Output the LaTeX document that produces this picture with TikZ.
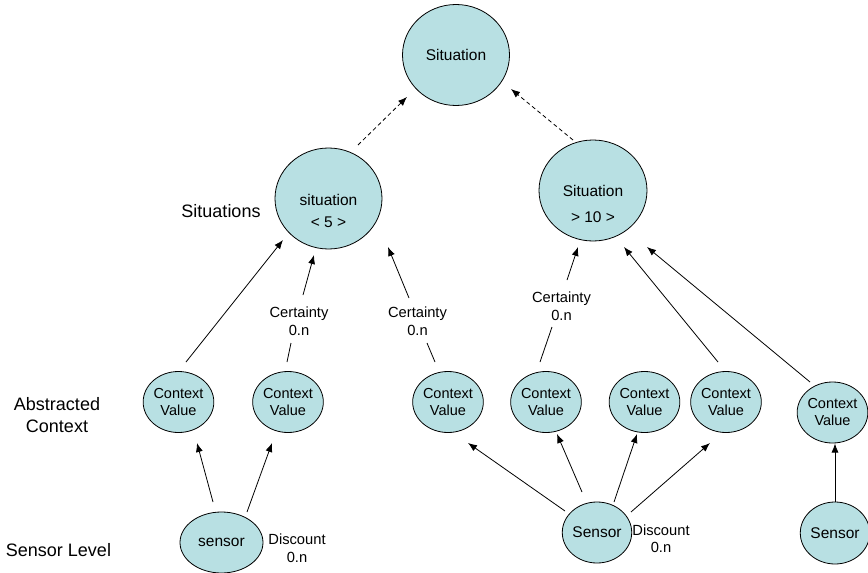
\documentclass[tikz,border=0pt]{standalone}
\usepackage{fontspec}
\setmainfont{Liberation Sans}
\usetikzlibrary{shapes.geometric,arrows.meta}
\definecolor{nodefill}{RGB}{184,224,227}
\begin{document}
\begin{tikzpicture}[x=1pt,y=-1pt,
  bub/.style={ellipse, draw=black, line width=0.8pt, fill=nodefill, inner sep=0pt, outer sep=0pt},
  big/.style={bub, minimum width=107pt, minimum height=101pt, font=\fontsize{15.5}{18.6}\selectfont},
  cv/.style={bub, minimum width=67pt, minimum height=61pt, font=\fontsize{14.5}{17}\selectfont, align=center},
  sens/.style={bub, minimum width=66pt, minimum height=61pt, font=\fontsize{15.5}{18.6}\selectfont},
  intxt/.style={inner sep=0pt, align=center},
  lbl/.style={font=\fontsize{18}{22}\selectfont, align=center, inner sep=0pt},
  cert/.style={font=\fontsize{14.7}{17.5}\selectfont, align=center, inner sep=0pt},
  arr/.style={line width=0.8pt, -{Latex[length=9pt,width=7pt]}},
  dsh/.style={line width=0.8pt, dash pattern=on 4pt off 3pt, -{Latex[length=9pt,width=7pt]}},
  ln/.style={line width=0.8pt}]
\useasboundingbox (0,0) rectangle (868,573);

% situations
\node[big] (s0) at (456,55) {Situation};
\node[big] (s1) at (328.5,198.5) {};
\node[intxt, font=\fontsize{15.5}{22}\selectfont] (s1t) at (328.5,211) {situation\\< 5 >};
\node[big, minimum width=108pt] (s2) at (593,190.5) {};
\node[intxt, font=\fontsize{15.5}{25.5}\selectfont] (s2t) at (593,204.2) {Situation\\> 10 >};

% context values
\node[cv] (cv1) at (178.5,402) {Context\\Value};
\node[cv] (cv2) at (288,402) {Context\\Value};
\node[cv, minimum width=66pt] (cv3) at (448,402) {Context\\Value};
\node[cv, minimum width=66pt] (cv4) at (546,402) {Context\\Value};
\node[cv, minimum width=65pt] (cv5) at (644.5,402) {Context\\Value};
\node[cv, minimum width=66pt] (cv6) at (726,402) {Context\\Value};
\node[cv] (cv7) at (832.5,412.5) {Context\\Value};

% sensors
\node[sens, minimum width=83pt] (se1) at (221.5,542.5) {sensor};
\node[sens] (se2) at (597,532.5) {Sensor};
\node[sens, minimum height=62pt] (se3) at (835,533) {Sensor};

% labels
\node[lbl] (lsit) at (221,211) {Situations};
\node[lbl] (labs) at (57,415.5) {Abstracted\\Context};
\node[lbl] (lsen) at (58.5,550) {Sensor Level};

\node[cert] (c1) at (299,321) {Certainty\\0.n};
\node[cert] (c2) at (417.5,321) {Certainty\\0.n};
\node[cert] (c3) at (561.5,306) {Certainty\\0.n};
\node[cert] (d1) at (297,548) {Discount\\0.n};
\node[cert] (d2) at (661,538.5) {Discount\\0.n};

% dashed arrows
\draw[dsh] ([shift={(29.5,-53.5)}]s1.center) -- ([shift={(-49,42)}]s0.center);
\draw[dsh] ([shift={(-20,-50.5)}]s2.center) -- ([shift={(55,34)}]s0.center);

% context values to situations
\draw[arr] ([shift={(7.5,-40)}]cv1.center) -- ([shift={(-45.5,41.5)}]s1.center);
\draw[ln]  ([shift={(-1,-40)}]cv2.center) -- ([shift={(-8,22)}]c1.center);
\draw[arr] ([shift={(4,-26)}]c1.center) -- ([shift={(-14.5,56.5)}]s1.center);
\draw[ln]  ([shift={(-13,-40)}]cv3.center) -- ([shift={(9.5,22)}]c2.center);
\draw[arr] ([shift={(-8.5,-23)}]c2.center) -- ([shift={(59.5,48.5)}]s1.center);
\draw[ln]  ([shift={(-6,-40)}]cv4.center) -- ([shift={(-9.5,21)}]c3.center);
\draw[arr] ([shift={(5.5,-26)}]c3.center) -- ([shift={(-15,56.5)}]s2.center);
\draw[arr] ([shift={(-8,-40)}]cv6.center) -- ([shift={(31,56.5)}]s2.center);
\draw[arr] ([shift={(-22.5,-30.5)}]cv7.center) -- ([shift={(54,56.5)}]s2.center);

% sensors to context values
\draw[arr] ([shift={(-8.5,-40.5)}]se1.center) -- ([shift={(18.5,41)}]cv1.center);
\draw[arr] ([shift={(25.5,-30.5)}]se1.center) -- ([shift={(-16,41)}]cv2.center);
\draw[arr] ([shift={(-32,-21.5)}]se2.center) -- ([shift={(20,41)}]cv3.center);
\draw[arr] ([shift={(-15,-40.5)}]se2.center) -- ([shift={(11,32)}]cv4.center);
\draw[arr] ([shift={(17,-30.5)}]se2.center) -- ([shift={(-7.5,32)}]cv5.center);
\draw[arr] ([shift={(34,-20.5)}]se2.center) -- ([shift={(-16,41)}]cv6.center);
\draw[arr] ([shift={(0,-31)}]se3.center) -- ([shift={(2.5,31)}]cv7.center);
\end{tikzpicture}
\end{document}
